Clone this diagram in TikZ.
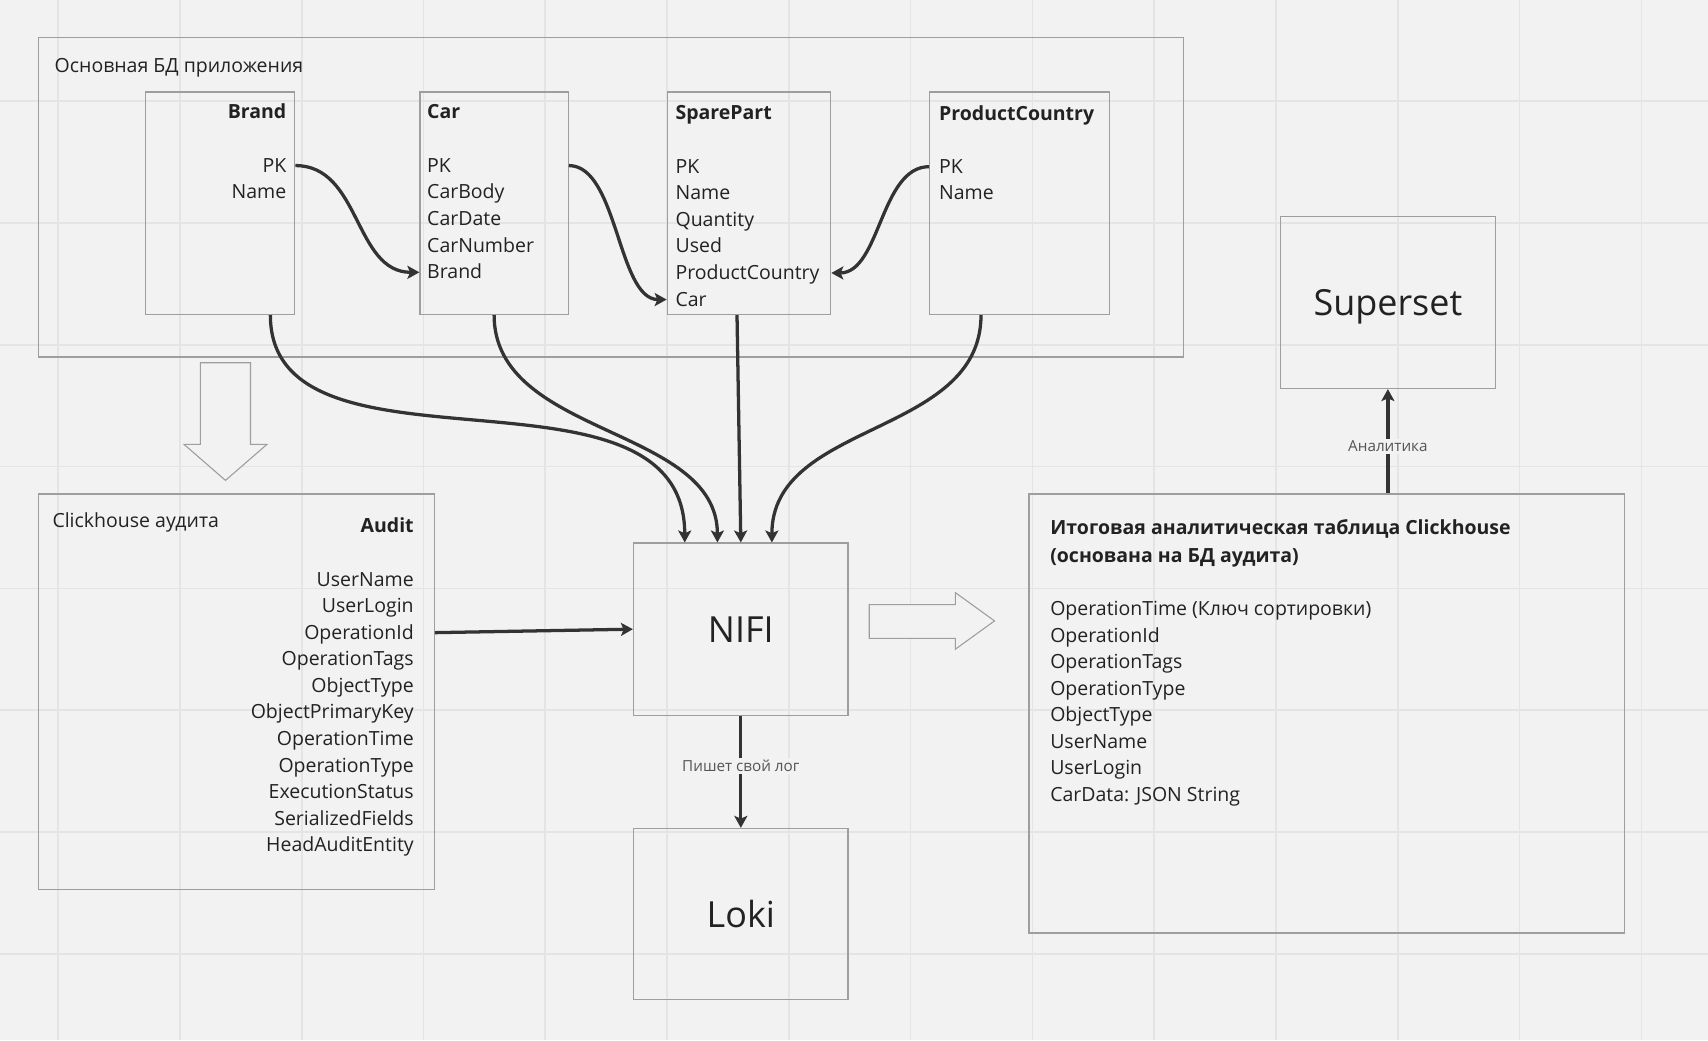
\documentclass[tikz,border=0pt]{standalone}
\usepackage{fontspec}
\setmainfont{Open Sans}
\usetikzlibrary{arrows.meta}
\definecolor{bg}{HTML}{F2F2F2}
\definecolor{gridc}{HTML}{E4E4E4}
\definecolor{boxc}{HTML}{9E9E9E}
\definecolor{textc}{HTML}{222222}
\definecolor{linec}{HTML}{333333}
\definecolor{lblc}{HTML}{555555}
\tikzset{
  box/.style={draw=boxc, line width=1.2pt, anchor=north west, inner sep=0pt},
  fld/.style={inner sep=0pt, text=textc, font=\fontsize{17.9}{24}\selectfont, text height=13pt, text depth=1pt},
  ttl/.style={fld, font=\fontsize{17.9}{24}\selectfont\bfseries},
  big/.style={text=textc, font=\fontsize{33}{40}\selectfont},
  conn/.style={draw=linec, line width=3pt, -{Stealth[length=11pt,width=12pt,inset=2.5pt]}},
  lbl/.style={fill=bg, text=lblc, font=\fontsize{14}{17}\selectfont, inner sep=2pt},
  hollow/.style={draw=boxc, line width=1pt, fill=bg},
}
\begin{document}
\begin{tikzpicture}[x=1pt,y=-1pt]
% background and grid
\fill[bg] (0,0) rectangle (1568,955);
\useasboundingbox (0,0) rectangle (1568,955);
\foreach \k in {0,...,13} \draw[gridc, line width=1.5pt] ({53.4+\k*111.8},0) -- ({53.4+\k*111.8},955);
\foreach \k in {0,...,7} \draw[gridc, line width=1.5pt] (0,{93+\k*111.8}) -- (1568,{93+\k*111.8});

% main DB container
\node[box, minimum width=1051pt, minimum height=293pt] (maindb) at (35,34) {};
\node[fld, anchor=west] (maindbl) at (50,61) {Основная БД приложения};

% Brand
\node[box, minimum width=137pt, minimum height=204pt] (brand) at (133,84) {};
\node[ttl, anchor=east] (brandt) at (263,103) {Brand};
\foreach \t [count=\i] in {PK,Name}
  \node[fld, anchor=east] (brand-f\i) at (263,{152+(\i-1)*24.5}) {\t};

% Car
\node[box, minimum width=136pt, minimum height=204pt] (car) at (385,84) {};
\node[ttl, anchor=west] (cart) at (392,103) {Car};
\foreach \t [count=\i] in {PK,CarBody,CarDate,CarNumber,Brand}
  \node[fld, anchor=west] (car-f\i) at (392,{152+(\i-1)*24.5}) {\t};

% SparePart
\node[box, minimum width=150pt, minimum height=204pt] (spare) at (612,84) {};
\node[ttl, anchor=west] (sparet) at (620,104) {SparePart};
\foreach \t [count=\i] in {PK,Name,Quantity,Used,ProductCountry,Car}
  \node[fld, anchor=west] (spare-f\i) at (620,{153+(\i-1)*24.4}) {\t};

% ProductCountry
\node[box, minimum width=165pt, minimum height=204pt] (pc) at (853,84) {};
\node[ttl, anchor=west] (pct) at (862,105) {ProductCountry};
\foreach \t [count=\i] in {PK,Name}
  \node[fld, anchor=west] (pc-f\i) at (862,{153+(\i-1)*24.5}) {\t};

% Audit container
\node[box, minimum width=363pt, minimum height=363pt] (audit) at (35,453) {};
\node[fld, anchor=west] (auditl) at (48,478) {Clickhouse аудита};
\node[ttl, anchor=east] (auditt) at (380,483) {Audit};
\foreach \t [count=\i] in {UserName,UserLogin,OperationId,OperationTags,ObjectType,ObjectPrimaryKey,OperationTime,OperationType,ExecutionStatus,SerializedFields,HeadAuditEntity}
  \node[fld, anchor=east] (audit-f\i) at (380,{532+(\i-1)*24.4}) {\t};

% NIFI, Loki, Superset
\node[box, minimum width=197pt, minimum height=158pt] (nifi) at (581,498) {};
\node[big] (nifil) at (nifi.center) {NIFI};
\node[box, minimum width=197pt, minimum height=157pt] (loki) at (581,760) {};
\node[big] (lokil) at (loki.center) {Loki};
\node[box, minimum width=197pt, minimum height=158pt] (superset) at (1175,198) {};
\node[big, yshift=-4pt] (supersetl) at (superset.center) {Superset};

% Final analytic table
\node[box, minimum width=547pt, minimum height=403pt] (final) at (944,453) {};
\node[ttl, anchor=west] (finalt1) at (964,485) {Итоговая аналитическая таблица Clickhouse};
\node[ttl, anchor=west] (finalt2) at (964,510) {(основана на БД аудита)};
\foreach \t [count=\i] in {OperationTime (Ключ сортировки),OperationId,OperationTags,OperationType,ObjectType,UserName,UserLogin,CarData: JSON String}
  \node[fld, anchor=west] (final-f\i) at (964,{559+(\i-1)*24.4}) {\t};

% hollow block arrows
\draw[hollow] (184,333) -- (230,333) -- (230,408) -- (245,408) -- (207,441) -- (169,408) -- (184,408) -- cycle;
\draw[hollow] (798,555) -- (877,555) -- (877,544) -- (913,570) -- (877,596) -- (877,586) -- (798,586) -- cycle;

% foreign key connectors
\draw[conn] (brand.east |- brand-f1) .. controls +(60,0) and +(-60,0) .. (car.west |- car-f5);
\draw[conn] (car.east |- car-f1) .. controls +(45,0) and +(-45,0) .. (spare.west |- spare-f6);
\draw[conn] (pc.west |- pc-f1) .. controls +(-45,0) and +(45,0) .. (spare.east |- spare-f5);

% tables to NIFI
\draw[conn] ([xshift=-23pt]brand.south east) .. controls +(0,162) and +(0,-180) .. ([xshift=-51.5pt]nifi.north);
\draw[conn] (car.south) .. controls +(0,112) and +(0,-107) .. ([xshift=-21.5pt]nifi.north);
\draw[conn] ([xshift=-11pt]spare.south) -- (nifi.north);
\draw[conn] ([xshift=-35.5pt]pc.south) .. controls +(0,112) and +(0,-112) .. ([xshift=28.5pt]nifi.north);

% audit to NIFI
\draw[conn] (audit.east |- audit-f3) -- (nifi.west);

% NIFI to Loki
\draw[conn] (nifi.south) -- node[lbl, pos=0.45] (logl) {Пишет свой лог} (loki.north);

% final to Superset
\draw[conn] (superset.south |- final.north) -- node[lbl, pos=0.45] (anl) {Аналитика} (superset.south);
\end{tikzpicture}
\end{document}
